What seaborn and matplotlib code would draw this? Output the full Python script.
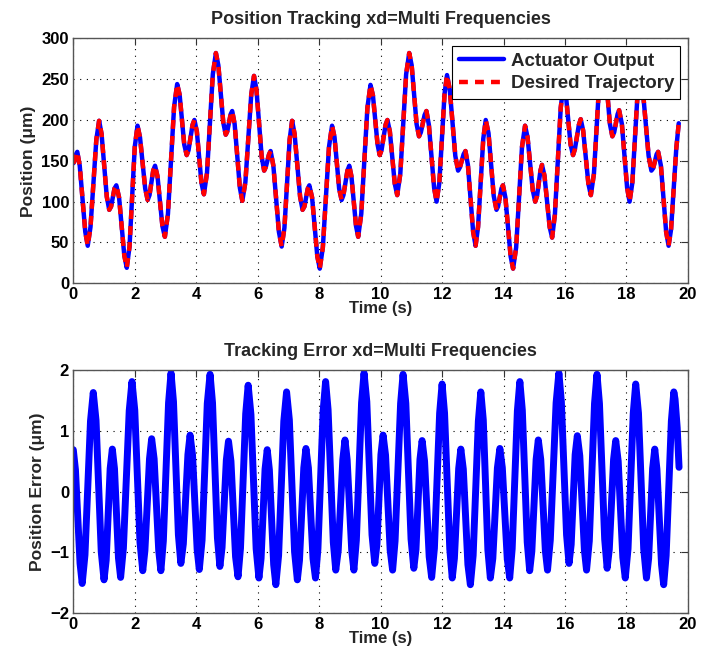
import matplotlib
matplotlib.use('Agg')
import matplotlib.pyplot as plt
import seaborn as sns
import pandas as pd

# Position tracking: (time s, position um)
# each row = two points along the slope + the next peak/trough
pos_points = [
    (0.00, 147),
    (0.03, 149), (0.10, 159), (0.13, 161),
    (0.21, 144), (0.39, 63), (0.47, 46),
    (0.56, 69), (0.75, 176), (0.84, 199),
    (0.92, 183), (1.09, 106), (1.17, 90),
    (1.23, 94), (1.34, 116), (1.40, 120),
    (1.49, 105), (1.66, 34), (1.74, 19),
    (1.83, 45), (2.00, 167), (2.09, 193),
    (2.17, 179), (2.34, 116), (2.42, 102),
    (2.48, 108), (2.60, 138), (2.66, 144),
    (2.74, 131), (2.90, 70), (2.98, 57),
    (3.08, 85), (3.28, 216), (3.38, 244),
    (3.46, 231), (3.61, 170), (3.69, 157),
    (3.75, 163), (3.88, 194), (3.94, 200),
    (4.02, 186), (4.17, 123), (4.25, 109),
    (4.35, 135), (4.54, 256), (4.64, 282),
    (4.72, 267), (4.88, 197), (4.96, 182),
    (5.01, 186), (5.12, 207), (5.17, 211),
    (5.25, 195), (5.42, 117), (5.50, 101),
    (5.60, 124), (5.79, 231), (5.88, 254),
    (5.96, 237), (6.13, 155), (6.21, 138),
    (6.26, 142), (6.37, 158), (6.42, 162),
    (6.51, 144), (6.69, 63), (6.78, 45),
    (6.87, 68), (7.04, 176), (7.12, 199),
    (7.20, 183), (7.38, 106), (7.46, 90),
    (7.52, 94), (7.63, 116), (7.68, 120),
    (7.77, 105), (7.94, 33), (8.02, 18),
    (8.12, 44), (8.32, 167), (8.42, 193),
    (8.50, 179), (8.65, 116), (8.73, 102),
    (8.79, 108), (8.92, 138), (8.98, 144),
    (9.05, 131), (9.20, 70), (9.27, 57),
    (9.37, 85), (9.57, 215), (9.67, 243),
    (9.75, 230), (9.90, 170), (9.97, 157),
    (10.03, 163), (10.16, 194), (10.22, 200),
    (10.30, 186), (10.46, 122), (10.54, 108),
    (10.64, 134), (10.83, 256), (10.93, 282),
    (11.01, 267), (11.17, 195), (11.25, 180),
    (11.31, 185), (11.43, 206), (11.49, 211),
    (11.57, 194), (11.74, 117), (11.82, 100),
    (11.91, 123), (12.08, 232), (12.16, 255),
    (12.25, 237), (12.43, 156), (12.52, 138),
    (12.58, 142), (12.70, 158), (12.76, 162),
    (12.84, 145), (13.01, 63), (13.09, 46),
    (13.17, 69), (13.34, 177), (13.42, 200),
    (13.51, 184), (13.68, 107), (13.77, 90),
    (13.82, 94), (13.93, 116), (13.98, 120),
    (14.06, 105), (14.23, 33), (14.31, 18),
    (14.41, 44), (14.60, 167), (14.70, 193),
    (14.78, 179), (14.95, 114), (15.03, 100),
    (15.09, 107), (15.20, 138), (15.25, 145),
    (15.33, 132), (15.50, 69), (15.58, 56),
    (15.67, 84), (15.86, 215), (15.95, 243),
    (16.03, 230), (16.18, 170), (16.26, 157),
    (16.32, 164), (16.45, 194), (16.51, 201),
    (16.59, 187), (16.76, 122), (16.84, 108),
    (16.94, 134), (17.13, 256), (17.22, 282),
    (17.30, 267), (17.46, 195), (17.54, 180),
    (17.60, 185), (17.71, 207), (17.76, 212),
    (17.85, 195), (18.02, 117), (18.10, 100),
    (18.19, 123), (18.36, 232), (18.44, 255),
    (18.53, 237), (18.72, 156), (18.81, 138),
    (18.87, 141), (18.98, 158), (19.03, 161),
    (19.12, 144), (19.29, 63), (19.37, 46),
    (19.45, 66), (19.62, 165), (19.70, 196),
]

# Tracking error: (time s, error um)
err_points = [
    (0.00, 0.69),
    (0.07, 0.36), (0.22, -1.18), (0.29, -1.51),
    (0.38, -1.04), (0.56, 1.16), (0.65, 1.63),
    (0.74, 1.17), (0.91, -0.99), (1.00, -1.45),
    (1.07, -1.13), (1.20, 0.38), (1.27, 0.70),
    (1.34, 0.38), (1.47, -1.09), (1.54, -1.41),
    (1.63, -0.93), (1.82, 1.33), (1.91, 1.81),
    (2.00, 1.34), (2.17, -0.83), (2.26, -1.30),
    (2.33, -0.97), (2.48, 0.54), (2.55, 0.87),
    (2.63, 0.54), (2.78, -0.97), (2.85, -1.30),
    (2.93, -0.81), (3.10, 1.46), (3.18, 1.95),
    (3.26, 1.48), (3.42, -0.71), (3.50, -1.18),
    (3.58, -0.86), (3.73, 0.61), (3.80, 0.93),
    (3.88, 0.60), (4.03, -0.95), (4.10, -1.28),
    (4.19, -0.80), (4.36, 1.45), (4.45, 1.93),
    (4.53, 1.46), (4.69, -0.76), (4.77, -1.23),
    (4.84, -0.92), (4.98, 0.52), (5.05, 0.83),
    (5.13, 0.50), (5.28, -1.07), (5.36, -1.40),
    (5.44, -0.93), (5.61, 1.28), (5.69, 1.75),
    (5.78, 1.27), (5.95, -0.94), (6.04, -1.42),
    (6.11, -1.10), (6.24, 0.37), (6.31, 0.69),
    (6.38, 0.36), (6.52, -1.20), (6.59, -1.53),
    (6.68, -1.05), (6.85, 1.16), (6.94, 1.64),
    (7.03, 1.18), (7.20, -0.99), (7.29, -1.45),
    (7.36, -1.13), (7.50, 0.39), (7.57, 0.71),
    (7.65, 0.39), (7.80, -1.10), (7.88, -1.42),
    (7.96, -0.94), (8.13, 1.33), (8.21, 1.81),
    (8.29, 1.35), (8.46, -0.83), (8.54, -1.29),
    (8.62, -0.97), (8.77, 0.53), (8.84, 0.85),
    (8.91, 0.53), (9.06, -0.97), (9.13, -1.29),
    (9.21, -0.80), (9.38, 1.46), (9.46, 1.95),
    (9.55, 1.48), (9.72, -0.71), (9.81, -1.18),
    (9.88, -0.86), (10.01, 0.61), (10.08, 0.93),
    (10.16, 0.60), (10.31, -0.96), (10.39, -1.29),
    (10.47, -0.81), (10.65, 1.45), (10.73, 1.93),
    (10.82, 1.45), (10.99, -0.78), (11.08, -1.26),
    (11.15, -0.95), (11.28, 0.53), (11.35, 0.84),
    (11.43, 0.50), (11.58, -1.07), (11.66, -1.41),
    (11.75, -0.93), (11.92, 1.29), (12.00, 1.77),
    (12.08, 1.29), (12.25, -0.94), (12.33, -1.42),
    (12.40, -1.10), (12.54, 0.38), (12.61, 0.70),
    (12.69, 0.37), (12.84, -1.20), (12.92, -1.53),
    (13.01, -1.05), (13.18, 1.16), (13.26, 1.64),
    (13.34, 1.18), (13.49, -0.96), (13.57, -1.42),
    (13.65, -1.10), (13.80, 0.39), (13.88, 0.71),
    (13.96, 0.39), (14.12, -1.10), (14.20, -1.42),
    (14.28, -0.94), (14.45, 1.33), (14.53, 1.81),
    (14.61, 1.34), (14.77, -0.83), (14.85, -1.30),
    (14.92, -0.98), (15.06, 0.53), (15.13, 0.85),
    (15.21, 0.53), (15.36, -0.97), (15.43, -1.29),
    (15.52, -0.80), (15.71, 1.46), (15.80, 1.95),
    (15.88, 1.48), (16.05, -0.71), (16.13, -1.18),
    (16.20, -0.87), (16.33, 0.61), (16.40, 0.92),
    (16.48, 0.59), (16.63, -0.96), (16.70, -1.29),
    (16.79, -0.81), (16.96, 1.45), (17.04, 1.93),
    (17.12, 1.45), (17.29, -0.78), (17.37, -1.26),
    (17.44, -0.95), (17.58, 0.53), (17.65, 0.84),
    (17.73, 0.50), (17.88, -1.08), (17.96, -1.42),
    (18.05, -0.94), (18.22, 1.29), (18.30, 1.77),
    (18.39, 1.29), (18.56, -0.94), (18.65, -1.42),
    (18.72, -1.10), (18.85, 0.38), (18.92, 0.70),
    (18.99, 0.37), (19.14, -1.20), (19.21, -1.53),
    (19.29, -1.05), (19.46, 1.16), (19.54, 1.64),
    (19.58, 1.52), (19.65, 1.05), (19.71, 0.40),
]

x_ticks = list(range(0, 21, 2))
pos_ticks = [0, 50, 100, 150, 200, 250, 300]
err_ticks = [-2, -1, 0, 1, 2]

df_pos = pd.DataFrame(pos_points, columns=['t', 'pos'])
df_err = pd.DataFrame(err_points, columns=['t', 'err'])

sns.set_style('white')
plt.rcParams['font.family'] = ['Liberation Sans', 'DejaVu Sans']
plt.rcParams['font.weight'] = 'bold'
plt.rcParams['axes.labelweight'] = 'bold'
plt.rcParams['axes.titleweight'] = 'bold'

fig = plt.figure(figsize=(7.02, 6.61), dpi=100)
ax1 = fig.add_axes([0.1044, 0.5714, 0.8756, 0.3706])
ax2 = fig.add_axes([0.1044, 0.0722, 0.8756, 0.3680])

# Top: actuator output (solid blue) under desired trajectory (dashed red)
sns.lineplot(data=df_pos, x='t', y='pos', ax=ax1, color='blue', lw=3.2,
             estimator=None, sort=False, label='Actuator Output',
             solid_joinstyle='round')
sns.lineplot(data=df_pos, x='t', y='pos', ax=ax1, color='red', lw=3.2,
             estimator=None, sort=False, label='Desired Trajectory',
             linestyle=(0, (2.0, 1.6)), dash_joinstyle='round')

# Bottom: tracking error
sns.lineplot(data=df_err, x='t', y='err', ax=ax2, color='blue', lw=5.0,
             estimator=None, sort=False, legend=False,
             solid_joinstyle='round', solid_capstyle='round')

for ax, yt, ylim in [(ax1, pos_ticks, (0, 300)), (ax2, err_ticks, (-2, 2))]:
    ax.set_xlim(0, 20)
    ax.set_ylim(*ylim)
    ax.set_xticks(x_ticks)
    ax.set_yticks(yt)
    ax.grid(True, color='black', linestyle=(0, (1, 5)), linewidth=0.8)
    ax.tick_params(direction='in', length=5, width=0.8, top=True, right=True,
                   labelsize=12, colors='#333333', labelcolor='black', pad=3)
    for s in ax.spines.values():
        s.set_color('#555555')
        s.set_linewidth(1.0)
    ax.set_xlabel('Time (s)', fontsize=12, labelpad=-1)
    for lab in ax.get_xticklabels() + ax.get_yticklabels():
        lab.set_fontweight('bold')

ax1.set_ylabel('Position (\u03bcm)', fontsize=12.5, labelpad=4)
ax2.set_ylabel('Position Error (\u03bcm)', fontsize=12.5, labelpad=4)
ax1.set_title('Position Tracking xd=Multi Frequencies', fontsize=13, pad=10)
ax2.set_title('Tracking Error xd=Multi Frequencies', fontsize=13, pad=10)

leg = ax1.legend(loc='upper right', fancybox=False, frameon=True,
                 edgecolor='black', framealpha=1, fontsize=13.5,
                 borderaxespad=0.4, handlelength=2.4, borderpad=0.35,
                 labelspacing=0.3, handletextpad=0.35)
leg.get_frame().set_linewidth(0.8)
for txt in leg.get_texts():
    txt.set_fontweight('bold')

fig.savefig('out.png', dpi=100)
